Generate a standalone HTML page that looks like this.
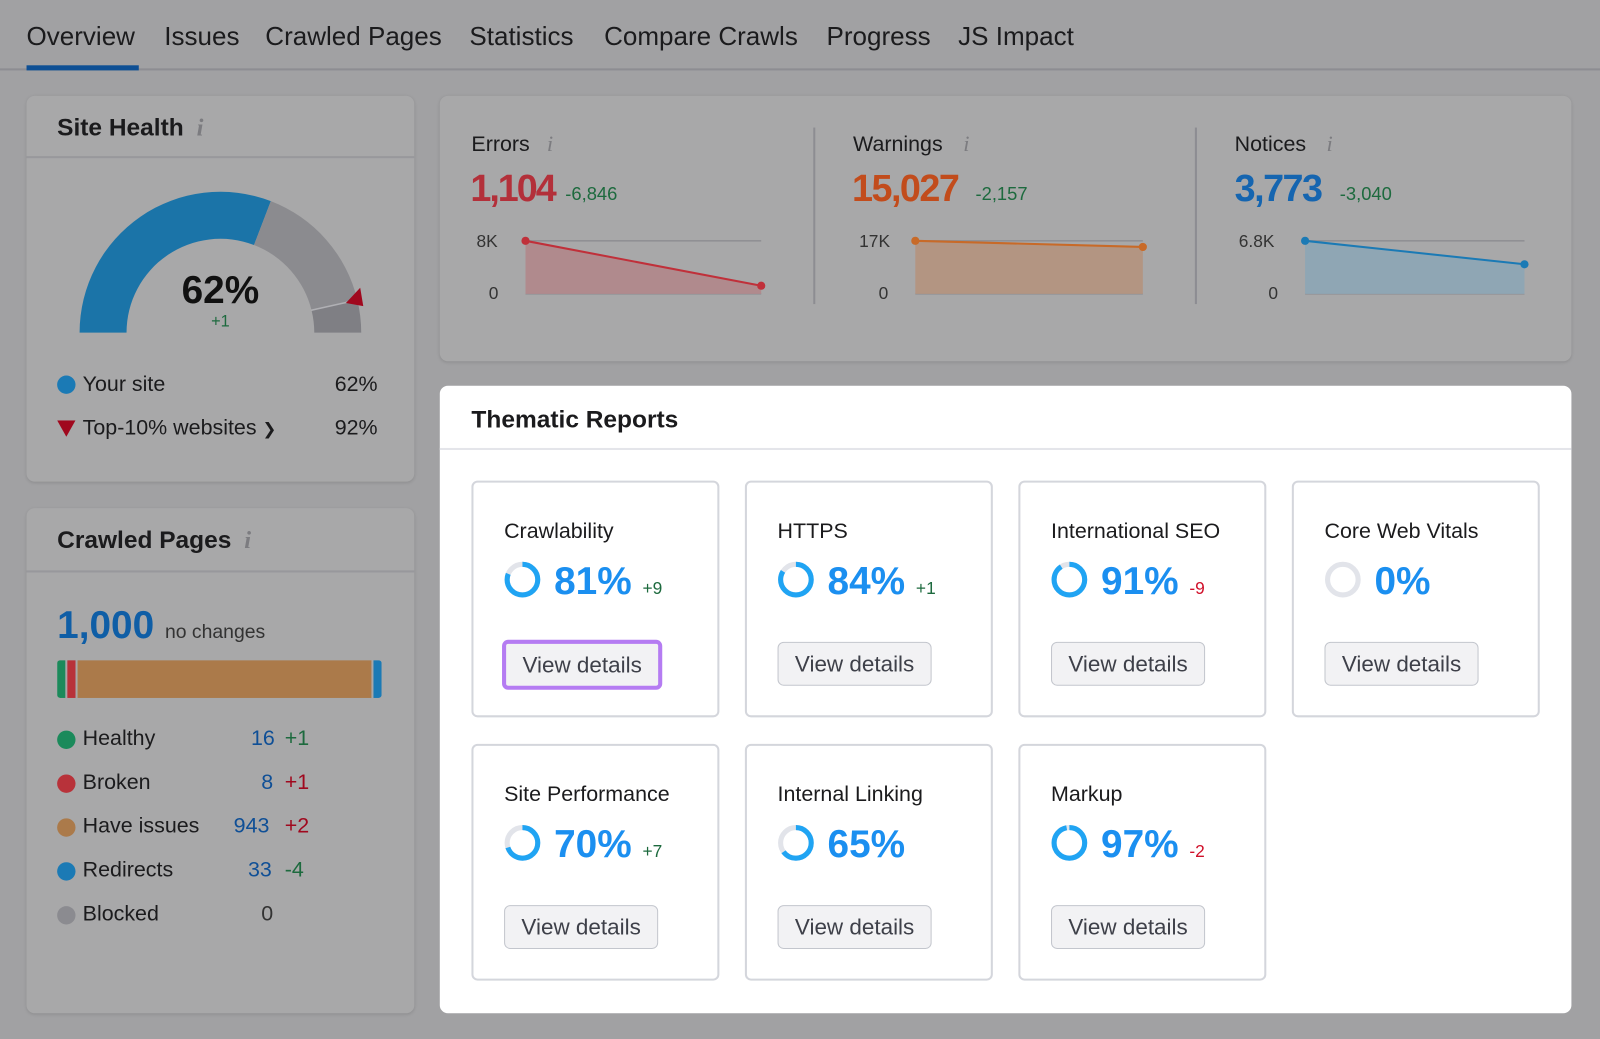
<!DOCTYPE html>
<html><head><meta charset="utf-8"><style>
*{box-sizing:border-box;margin:0;padding:0}
html,body{width:1600px;height:1039px;overflow:hidden;background:#a1a1a3;font-family:"Liberation Sans",sans-serif;color:#1b1b1d}
#w{position:absolute;left:0;top:0;width:1568px;height:1018px;transform:scale(1.0204);transform-origin:0 0}
.a{position:absolute;white-space:nowrap}
.tab{font-size:25.5px;top:22px}
.card{position:absolute;background:#a8a8a9;border-radius:8px;box-shadow:0 1px 3px rgba(0,0,0,.12)}
.hd{font-size:24px;font-weight:bold}
.info{color:#7c7c80;font-style:italic;font-family:"Liberation Serif",serif;font-size:24px}
.dot{position:absolute;width:18px;height:18px;border-radius:50%}
.sub{position:absolute;background:#fff;border:2px solid #d4d6dc;border-radius:6px;width:243px;height:232px}
.sub .t{position:absolute;left:30px;top:36px;font-size:21px}
.sub .p{position:absolute;left:79px;top:76px;font-size:38px;font-weight:bold;color:#1b8ff0}
.sub .d{font-size:17px;font-weight:normal}
.sub svg{position:absolute;left:30px;top:77px}
.btn{position:absolute;left:30px;top:156px;width:151px;height:43px;border:1.5px solid #c3c6cd;border-radius:6px;background:#f2f2f4;font-size:22px;color:#3e4049;text-align:center;line-height:42px}
</style></head><body><div id="w">
<div class="a tab" style="left:26px">Overview</div>
<div class="a tab" style="left:161px">Issues</div>
<div class="a tab" style="left:260px">Crawled Pages</div>
<div class="a tab" style="left:460px">Statistics</div>
<div class="a tab" style="left:592px">Compare Crawls</div>
<div class="a tab" style="left:810px">Progress</div>
<div class="a tab" style="left:939px">JS Impact</div>
<div class="a" style="left:0;top:67px;width:1568px;height:2px;background:#8d8d92"></div>
<div class="a" style="left:26px;top:64px;width:110px;height:5px;background:#0e4f94"></div>

<div class="card" style="left:26px;top:94px;width:380px;height:378px">
<div class="a hd" style="left:30px;top:18px">Site Health <span class="info">&nbsp;i</span></div>
<div class="a" style="left:0;top:59px;width:380px;height:2px;background:#98989c"></div>
<svg class="a" style="left:-26px;top:-94px" width="400" height="400">
<path d="M78,326 A138,138 0 0 1 265.4,197.1 L248.9,240.1 A92,92 0 0 0 124,326 Z" fill="#1b74a8"/>
<path d="M265.4,197.1 A138,138 0 0 1 350.1,293.6 L305.4,304.4 A92,92 0 0 0 248.9,240.1 Z" fill="#8b8b8f"/>
<path d="M350.1,293.6 A138,138 0 0 1 354,326 L308,326 A92,92 0 0 0 305.4,304.4 Z" fill="#7f7f84"/>
<line x1="305" y1="304" x2="350" y2="294" stroke="#b0b0b4" stroke-width="1.5"/>
<polygon points="339,297 353,282 356,300" fill="#a0081e"/>
<text x="216" y="297" text-anchor="middle" font-size="38" font-weight="bold" fill="#111" font-family="Liberation Sans">62%</text>
<text x="216" y="320" text-anchor="middle" font-size="16" fill="#1d6a3e" font-family="Liberation Sans">+1</text>
</svg>
<div class="dot" style="left:30px;top:274px;background:#1b7ab5"></div>
<div class="a" style="left:55px;top:271px;font-size:21px">Your site</div>
<div class="a" style="left:302px;top:271px;font-size:21px">62%</div>
<svg class="a" style="left:30px;top:318px" width="18" height="16"><polygon points="0,0 18,0 9,16" fill="#a0081e"/></svg>
<div class="a" style="left:55px;top:314px;font-size:21px">Top-10% websites <span style="font-size:16px">&#10095;</span></div>
<div class="a" style="left:302px;top:314px;font-size:21px">92%</div>
</div>

<div class="card" style="left:26px;top:498px;width:380px;height:495px">
<div class="a hd" style="left:30px;top:18px">Crawled Pages <span class="info">&nbsp;i</span></div>
<div class="a" style="left:0;top:61px;width:380px;height:2px;background:#98989c"></div>
<div class="a" style="left:30px;top:94px;font-size:38px;font-weight:bold;color:#0f5ea6">1,000 <span style="font-size:19px;font-weight:normal;color:#333">no changes</span></div>
<div class="a" style="left:30px;top:149px;width:318px;height:37px;border-radius:3px;overflow:hidden;display:flex">
<div style="width:8px;background:#1b8a5b"></div><div style="width:2px"></div><div style="width:8px;background:#b8323a"></div><div style="width:2px"></div><div style="flex:1;background:#ab7a4a"></div><div style="width:2px"></div><div style="width:8px;background:#1b7ab5"></div></div>
<div class="dot" style="left:30px;top:218px;background:#1b8a5b"></div><div class="a" style="left:55px;top:214px;font-size:21px">Healthy</div><div class="a" style="left:220px;top:214px;font-size:21px;color:#0f4f96">16</div><div class="a" style="left:253px;top:214px;font-size:21px;color:#1d6a3e">+1</div>
<div class="dot" style="left:30px;top:261px;background:#b8323a"></div><div class="a" style="left:55px;top:257px;font-size:21px">Broken</div><div class="a" style="left:230px;top:257px;font-size:21px;color:#0f4f96">8</div><div class="a" style="left:253px;top:257px;font-size:21px;color:#a0081e">+1</div>
<div class="dot" style="left:30px;top:304px;background:#ab7a4a"></div><div class="a" style="left:55px;top:300px;font-size:21px">Have issues</div><div class="a" style="left:203px;top:300px;font-size:21px;color:#0f4f96">943</div><div class="a" style="left:253px;top:300px;font-size:21px;color:#a0081e">+2</div>
<div class="dot" style="left:30px;top:347px;background:#1b7ab5"></div><div class="a" style="left:55px;top:343px;font-size:21px">Redirects</div><div class="a" style="left:217px;top:343px;font-size:21px;color:#0f4f96">33</div><div class="a" style="left:253px;top:343px;font-size:21px;color:#1d6a3e">-4</div>
<div class="dot" style="left:30px;top:390px;background:#8b8b90"></div><div class="a" style="left:55px;top:386px;font-size:21px">Blocked</div><div class="a" style="left:230px;top:386px;font-size:21px;color:#333">0</div>
</div>

<div class="card" style="left:431px;top:94px;width:1109px;height:260px"></div>
<div class="a" style="left:797px;top:125px;width:2px;height:173px;background:#8d8d92"></div>
<div class="a" style="left:1171px;top:125px;width:2px;height:173px;background:#8d8d92"></div>
<svg class="a" style="left:0;top:0" width="1568" height="320" font-family="Liberation Sans">
<g font-size="21" fill="#1b1b1d"><text x="462" y="148">Errors</text><text x="836" y="148">Warnings</text><text x="1210" y="148">Notices</text></g>
<g font-size="22" fill="#7c7c80" font-style="italic" font-family="Liberation Serif"><text x="536" y="148">i</text><text x="944" y="148">i</text><text x="1300" y="148">i</text></g>
<g font-size="37" font-weight="bold"><text x="461" y="197" fill="#b3303a" letter-spacing="-2">1,104</text><text x="835" y="197" fill="#c24c1c" letter-spacing="-1.5">15,027</text><text x="1210" y="197" fill="#1565b0" letter-spacing="-1.5">3,773</text></g>
<g font-size="18" fill="#1d6a3e"><text x="554" y="196">-6,846</text><text x="956" y="196">-2,157</text><text x="1313" y="196">-3,040</text></g>
<g font-size="17" fill="#333"><text x="467" y="242">8K</text><text x="479" y="293">0</text><text x="842" y="242">17K</text><text x="861" y="293">0</text><text x="1214" y="242">6.8K</text><text x="1243" y="293">0</text></g>
<g stroke="#909094" stroke-width="1.5"><line x1="515" y1="236" x2="746" y2="236"/><line x1="515" y1="288" x2="746" y2="288"/><line x1="897" y1="236" x2="1120" y2="236"/><line x1="897" y1="288" x2="1120" y2="288"/><line x1="1279" y1="236" x2="1494" y2="236"/><line x1="1279" y1="288" x2="1494" y2="288"/></g>
<polygon points="515,236 746,280 746,288 515,288" fill="#b08a8d"/>
<polyline points="515,236 746,280" stroke="#c0303a" stroke-width="2" fill="none"/>
<circle cx="515" cy="236" r="4" fill="#c0303a"/><circle cx="746" cy="280" r="4" fill="#c0303a"/>
<polygon points="897,236 1120,242 1120,288 897,288" fill="#b39582"/>
<polyline points="897,236 1120,242" stroke="#c86a28" stroke-width="2" fill="none"/>
<circle cx="897" cy="236" r="4" fill="#c86a28"/><circle cx="1120" cy="242" r="4" fill="#c86a28"/>
<polygon points="1279,236 1494,259 1494,288 1279,288" fill="#8fa6b4"/>
<polyline points="1279,236 1494,259" stroke="#1b7ab5" stroke-width="2" fill="none"/>
<circle cx="1279" cy="236" r="4" fill="#1b7ab5"/><circle cx="1494" cy="259" r="4" fill="#1b7ab5"/>
</svg>

<div class="a" style="left:431px;top:378px;width:1109px;height:615px;background:#fff;border-radius:8px"></div>
<div class="a hd" style="left:462px;top:398px">Thematic Reports</div>
<div class="a" style="left:431px;top:439px;width:1109px;height:2px;background:#e4e5ea"></div>

<div class="sub" style="left:462px;top:471px"><div class="t">Crawlability</div>
<svg width="36" height="36"><circle cx="18" cy="18" r="15" stroke="#e2e4ea" stroke-width="5" fill="none"/><circle cx="18" cy="18" r="15" stroke="#20a4f3" stroke-width="5" fill="none" stroke-dasharray="76.3 94.2" transform="rotate(-90 18 18)"/></svg>
<div class="p">81% <span class="d" style="color:#1d6a3e">+9</span></div>
<div class="btn" style="border:4px solid #b57cf2;left:28px;top:154px;width:157px;height:49px;line-height:41px">View details</div></div>
<div class="sub" style="left:730px;top:471px"><div class="t">HTTPS</div>
<svg width="36" height="36"><circle cx="18" cy="18" r="15" stroke="#e2e4ea" stroke-width="5" fill="none"/><circle cx="18" cy="18" r="15" stroke="#20a4f3" stroke-width="5" fill="none" stroke-dasharray="79.1 94.2" transform="rotate(-90 18 18)"/></svg>
<div class="p">84% <span class="d" style="color:#1d6a3e">+1</span></div><div class="btn">View details</div></div>
<div class="sub" style="left:998px;top:471px"><div class="t">International SEO</div>
<svg width="36" height="36"><circle cx="18" cy="18" r="15" stroke="#e2e4ea" stroke-width="5" fill="none"/><circle cx="18" cy="18" r="15" stroke="#20a4f3" stroke-width="5" fill="none" stroke-dasharray="85.7 94.2" transform="rotate(-90 18 18)"/></svg>
<div class="p">91% <span class="d" style="color:#d0102a">-9</span></div><div class="btn">View details</div></div>
<div class="sub" style="left:1266px;top:471px"><div class="t">Core Web Vitals</div>
<svg width="36" height="36"><circle cx="18" cy="18" r="15" stroke="#e2e4ea" stroke-width="5" fill="none"/></svg>
<div class="p">0%</div><div class="btn">View details</div></div>
<div class="sub" style="left:462px;top:729px"><div class="t">Site Performance</div>
<svg width="36" height="36"><circle cx="18" cy="18" r="15" stroke="#e2e4ea" stroke-width="5" fill="none"/><circle cx="18" cy="18" r="15" stroke="#20a4f3" stroke-width="5" fill="none" stroke-dasharray="65.9 94.2" transform="rotate(-90 18 18)"/></svg>
<div class="p">70% <span class="d" style="color:#1d6a3e">+7</span></div><div class="btn">View details</div></div>
<div class="sub" style="left:730px;top:729px"><div class="t">Internal Linking</div>
<svg width="36" height="36"><circle cx="18" cy="18" r="15" stroke="#e2e4ea" stroke-width="5" fill="none"/><circle cx="18" cy="18" r="15" stroke="#20a4f3" stroke-width="5" fill="none" stroke-dasharray="61.2 94.2" transform="rotate(-90 18 18)"/></svg>
<div class="p">65%</div><div class="btn">View details</div></div>
<div class="sub" style="left:998px;top:729px"><div class="t">Markup</div>
<svg width="36" height="36"><circle cx="18" cy="18" r="15" stroke="#e2e4ea" stroke-width="5" fill="none"/><circle cx="18" cy="18" r="15" stroke="#20a4f3" stroke-width="5" fill="none" stroke-dasharray="91.4 94.2" transform="rotate(-90 18 18)"/></svg>
<div class="p">97% <span class="d" style="color:#d0102a">-2</span></div><div class="btn">View details</div></div>
</div></body></html>
